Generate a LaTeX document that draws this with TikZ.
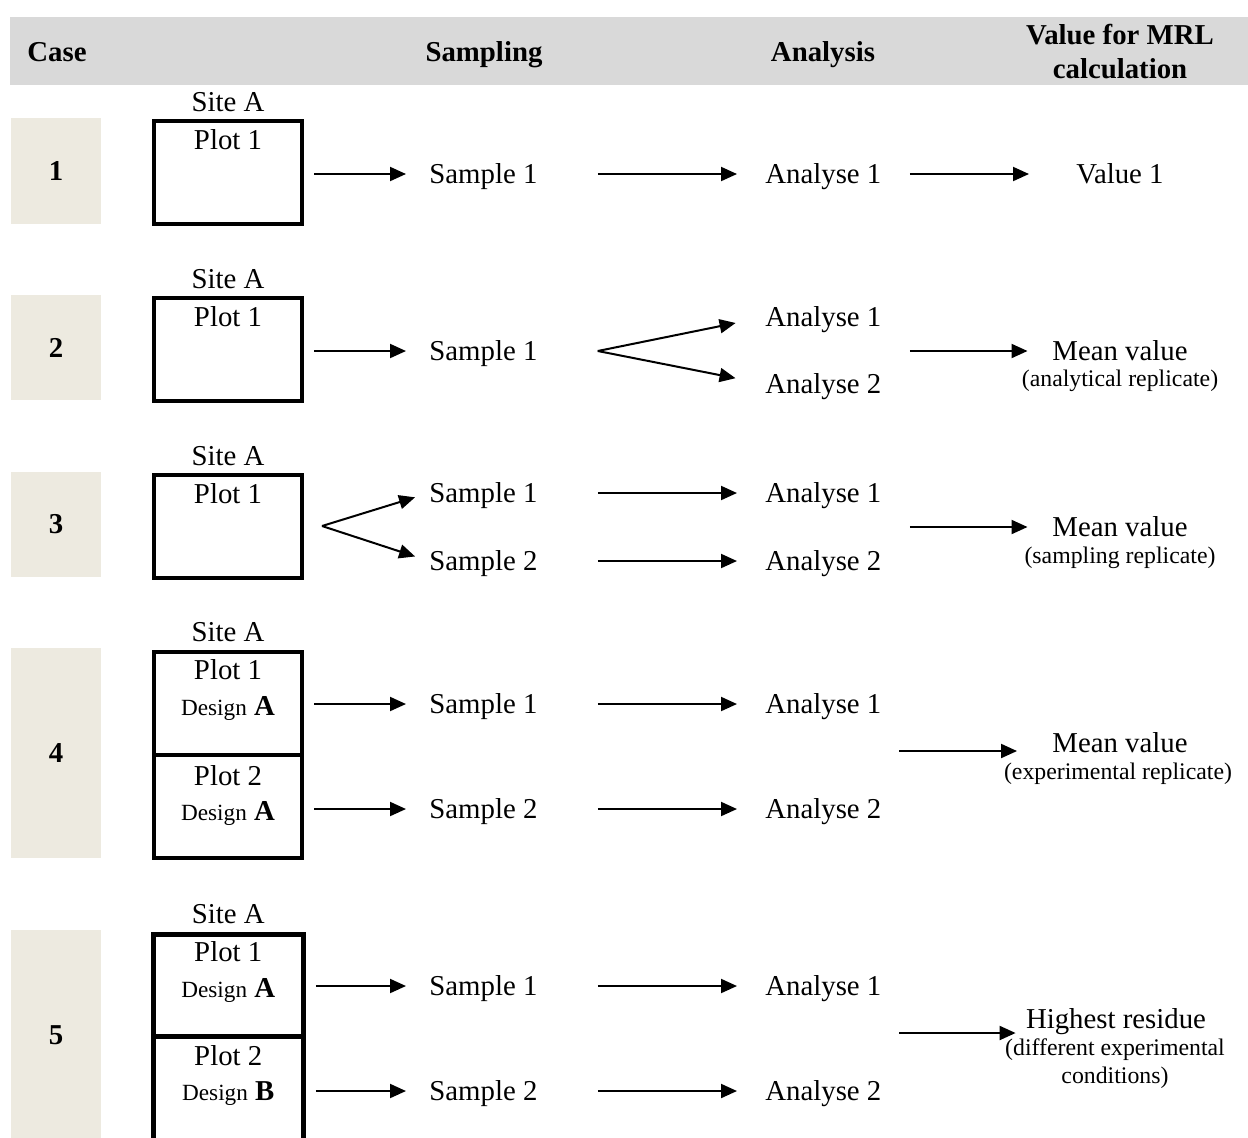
\documentclass[tikz,border=0pt]{standalone}
\usepackage{fontspec}
\setmainfont{Liberation Serif}
\usepackage{xcolor}
\definecolor{hgrey}{RGB}{217,217,217}
\definecolor{cbeige}{RGB}{237,234,224}
\usetikzlibrary{calc,arrows.meta}
\tikzset{
  txt/.style={inner sep=0pt, text height=9.5pt, text depth=0pt, font=\fontsize{14.4}{17}\selectfont},
  subtxt/.style={inner sep=0pt, anchor=base, font=\fontsize{11.9}{14}\selectfont},
  hdr/.style={txt, font=\fontsize{14.4}{17}\selectfont\bfseries},
  hdrtwo/.style={inner sep=0pt, align=center, font=\fontsize{14.4}{17}\selectfont\bfseries},
  casecell/.style={fill=cbeige, minimum width=45pt, inner sep=0pt, font=\fontsize{14.4}{17}\selectfont\bfseries},
  plotcell/.style={draw, line width=2pt, minimum width=74pt, minimum height=51.5pt, inner sep=0pt},
  arr/.style={-{Triangle[length=8pt,width=7pt]}, line width=1pt},
  tosample/.style={arr, shorten <=5pt, shorten >=11.5pt},
  toanalyse/.style={arr, shorten <=30pt, shorten >=14pt},
}
\newcommand{\design}[1]{{\fontsize{11.6}{14}\selectfont Design} \textbf{#1}}

\begin{document}
\begin{tikzpicture}[x=0.5pt,y=-0.5pt]
  \useasboundingbox (0,0) rectangle (1248,1137);
  \clip (0,0) rectangle (1248,1137);
  % header
  \fill[hgrey] (10,17) rectangle (1248,85);
  \node[hdr] (hcase) at (57,52) {Case};
  \node[hdr] (hsampling) at (484,52) {Sampling};
  \node[hdr] (hanalysis) at (823,52) {Analysis};
  \node[hdrtwo] (hvalue) at (1120,52) {Value for MRL\\calculation};

  % case 1
  \node[casecell, minimum height=53pt] (c1) at (56,171) {1};
  \node[plotcell] (p1) at (228,172.5) {};
  \node[txt] (p1-site) at ($(p1.north)+(0,-17)$) {Site A};
  \node[txt] (p1-lbl) at ($(p1.north)+(0,21)$) {Plot 1};
  \node[txt, anchor=west] (s1) at (429,174) {Sample 1};
  \node[txt, anchor=west] (a1) at (765,174) {Analyse 1};
  \node[txt] (v1) at (1120,174) {Value 1};
  \draw[tosample] (s1.west -| p1.east) -- (s1.west);
  \draw[toanalyse] (s1.east) -- (a1.west);
  \draw[arr, shorten <=14pt, shorten >=23.5pt] (a1.east) -- (v1.west);

  % case 2
  \node[casecell, minimum height=52.5pt] (c2) at (56,347.5) {2};
  \node[plotcell] (p2) at (228,349) {};
  \node[txt] (p2-site) at ($(p2.north)+(0,-17)$) {Site A};
  \node[txt] (p2-lbl) at ($(p2.north)+(0,21)$) {Plot 1};
  \node[txt, anchor=west] (s2) at (429,351) {Sample 1};
  \node[txt, anchor=west] (a21) at (765,317) {Analyse 1};
  \node[txt, anchor=west] (a22) at (765,384) {Analyse 2};
  \node[txt] (v2) at (1120,351) {Mean value};
  \node[subtxt] (v2-sub) at (1120,386.6) {(analytical replicate)};
  \coordinate (f2) at ($(s2.east)+(60,0)$);
  \coordinate (m2) at ($(a21.east)!.5!(a22.east)$);
  \draw[tosample] (s2.west -| p2.east) -- (s2.west);
  \draw[arr, shorten >=15pt] (f2) -- (a21.west);
  \draw[arr, shorten >=15pt] (f2) -- (a22.west);
  \draw[arr, shorten <=14pt, shorten >=12.25pt] (v2.west -| m2) -- (v2.west);

  % case 3
  \node[casecell, minimum height=52.5pt] (c3) at (56,524.5) {3};
  \node[plotcell] (p3) at (228,526) {};
  \node[txt] (p3-site) at ($(p3.north)+(0,-17)$) {Site A};
  \node[txt] (p3-lbl) at ($(p3.north)+(0,21)$) {Plot 1};
  \node[txt, anchor=west] (s31) at (429,493) {Sample 1};
  \node[txt, anchor=west] (s32) at (429,561) {Sample 2};
  \node[txt, anchor=west] (a31) at (765,493) {Analyse 1};
  \node[txt, anchor=west] (a32) at (765,561) {Analyse 2};
  \node[txt] (v3) at (1120,527) {Mean value};
  \node[subtxt] (v3-sub) at (1120,563.6) {(sampling replicate)};
  \coordinate (f3) at ($(p3.east)+(18,0)$);
  \coordinate (m3) at ($(a31.east)!.5!(a32.east)$);
  \draw[arr, shorten >=7.3pt] (f3) -- (s31.west);
  \draw[arr, shorten >=7.3pt] (f3) -- (s32.west);
  \draw[toanalyse] (s31.east) -- (a31.west);
  \draw[toanalyse] (s32.east) -- (a32.west);
  \draw[arr, shorten <=14pt, shorten >=12.25pt] (v3.west -| m3) -- (v3.west);

  % case 4
  \node[casecell, minimum height=105pt] (c4) at (56,753) {4};
  \node[plotcell] (p41) at (228,703.5) {};
  \node[plotcell] (p42) at (228,806.5) {};
  \node[txt] (p41-site) at ($(p41.north)+(0,-18)$) {Site A};
  \node[txt] (p41-lbl) at ($(p41.north)+(0,20)$) {Plot 1};
  \node[txt] (p41-des) at ($(p41.north)+(0,56)$) {\design{A}};
  \node[txt] (p42-lbl) at ($(p42.north)+(0,23)$) {Plot 2};
  \node[txt] (p42-des) at ($(p42.north)+(0,58)$) {\design{A}};
  \node[txt, anchor=west] (s41) at (429,704) {Sample 1};
  \node[txt, anchor=west] (s42) at (429,809) {Sample 2};
  \node[txt, anchor=west] (a41) at (765,704) {Analyse 1};
  \node[txt, anchor=west] (a42) at (765,809) {Analyse 2};
  \node[txt] (v4) at (1120,743) {Mean value};
  \node[subtxt] (v4-sub) at (1118,779.6) {(experimental replicate)};
  \coordinate (m4) at (881,751);
  \draw[tosample] (s41.west -| p41.east) -- (s41.west);
  \draw[tosample] (s42.west -| p42.east) -- (s42.west);
  \draw[toanalyse] (s41.east) -- (a41.west);
  \draw[toanalyse] (s42.east) -- (a42.west);
  \draw[arr, shorten <=9pt, shorten >=17.5pt] (m4) -- (m4 -| v4.west);

  % case 5
  \node[casecell, minimum height=105pt] (c5) at (56,1035) {5};
  \node[plotcell, line width=2.5pt, minimum width=75pt, minimum height=51pt] (p51) at (228.25,985.5) {};
  \node[plotcell, line width=2.5pt, minimum width=75pt, minimum height=60pt] (p52) at (228.25,1096.5) {};
  \node[txt] (p51-site) at ($(p51.north)+(0,-18)$) {Site A};
  \node[txt] (p51-lbl) at ($(p51.north)+(0,20)$) {Plot 1};
  \node[txt] (p51-des) at ($(p51.north)+(0,56)$) {\design{A}};
  \node[txt] (p52-lbl) at ($(p52.north)+(0,22)$) {Plot 2};
  \node[txt] (p52-des) at ($(p52.north)+(0,57)$) {\design{B}};
  \node[txt, anchor=west] (s51) at (429,986) {Sample 1};
  \node[txt, anchor=west] (s52) at (429,1091) {Sample 2};
  \node[txt, anchor=west] (a51) at (765,986) {Analyse 1};
  \node[txt, anchor=west] (a52) at (765,1091) {Analyse 2};
  \node[txt] (v5) at (1116,1019) {Highest residue};
  \node[subtxt] (v5-sub1) at (1115,1055.6) {(different experimental};
  \node[subtxt] (v5-sub2) at (1115,1083.6) {conditions)};
  \coordinate (m5) at (881,1033);
  \draw[tosample] (s51.west -| p51.east) -- (s51.west);
  \draw[tosample] (s52.west -| p52.east) -- (s52.west);
  \draw[toanalyse] (s51.east) -- (a51.west);
  \draw[toanalyse] (s52.east) -- (a52.west);
  \draw[arr, shorten <=9pt, shorten >=5pt] (m5) -- (m5 -| v5.west);
\end{tikzpicture}
\end{document}
